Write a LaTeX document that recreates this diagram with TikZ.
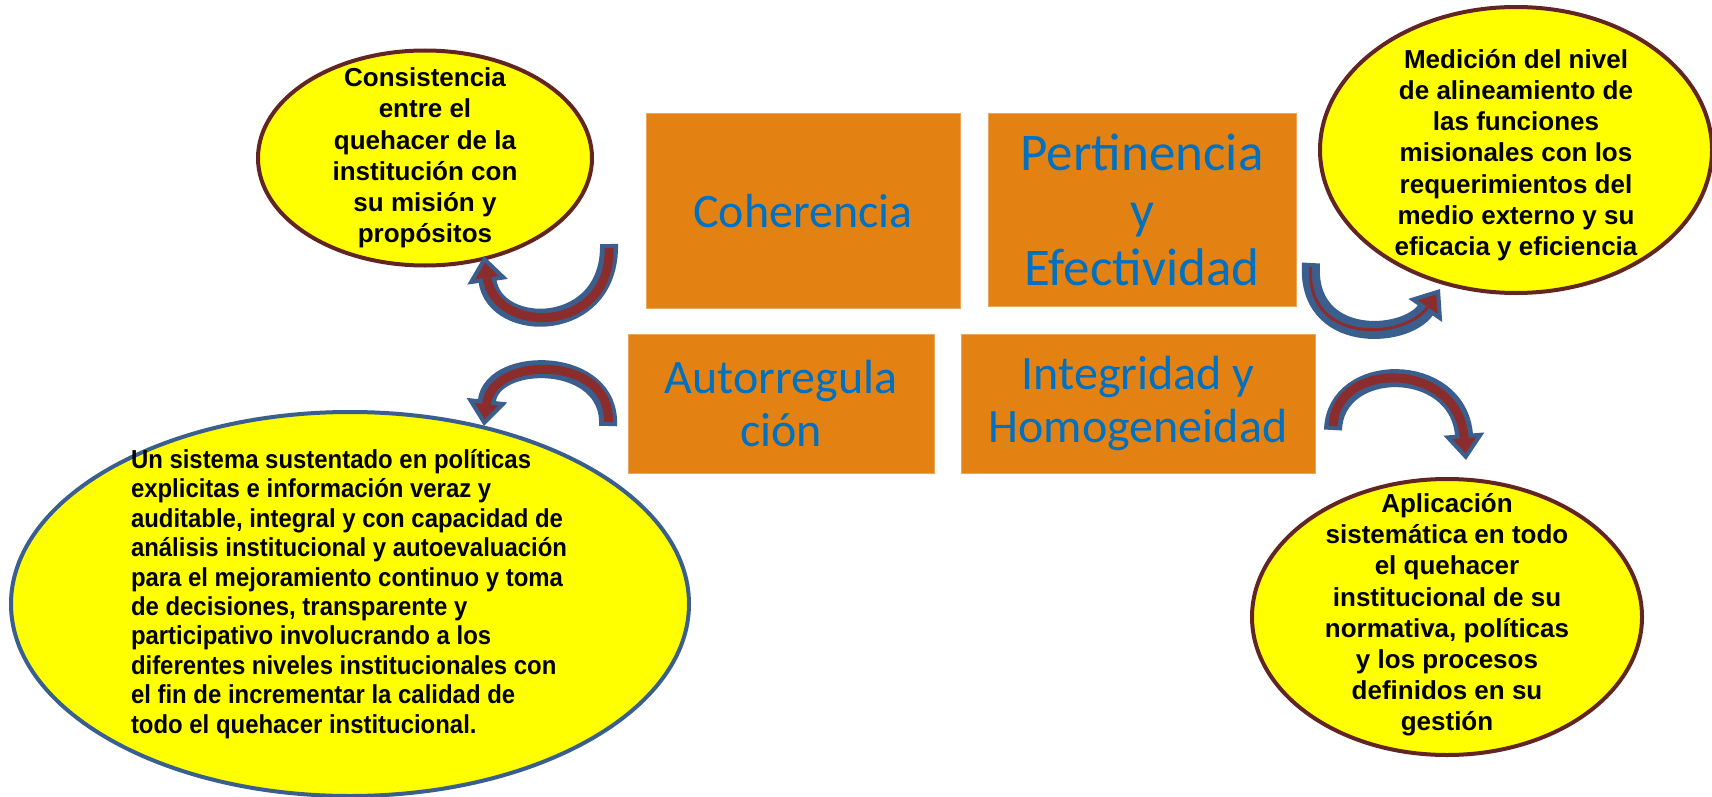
\documentclass[tikz,border=0pt]{standalone}
\usepackage{fontspec}
\usepackage{xcolor}
\usetikzlibrary{
  shapes.geometric,
  arrows.meta
}
\newfontfamily\boxfont{Carlito}
\newfontfamily\ovalfont{Liberation Sans}
\newfontfamily\narrowfont[FakeStretch=0.92]{Liberation Sans}
\definecolor{boxorange}{RGB}{227,130,18}
\definecolor{boxblue}{RGB}{0,112,192}
\definecolor{ovalyellow}{RGB}{255,255,0}
\definecolor{ovalrim}{RGB}{99,37,35}
\definecolor{arrowblue}{RGB}{58,95,143}
\definecolor{arrowred}{RGB}{140,45,45}
\newcommand{\ovaltext}[3]{\smash{\makebox[0pt]{\raisebox{#2}{\parbox{#1}{#3}}}}}

\begin{document}
\begin{tikzpicture}[x=0.5pt, y=-0.5pt,
    every node/.style = {inner sep=0pt},
    cajon/.style = {rectangle, fill=boxorange, draw=boxorange!70!white,
      line width=0.5pt, text=boxblue, align=center,
      font=\boxfont\fontsize{24pt}{26.2pt}\selectfont},
    globo/.style = {ellipse, fill=ovalyellow, draw=ovalrim, line width=2pt,
      font=\ovalfont\bfseries\fontsize{13pt}{15.6pt}\selectfont},
    flechafondo/.style = {draw=arrowblue, line width=9pt,
      -{Triangle[length=13pt, width=20pt, fill=arrowred, line width=2pt]}},
    flechanucleo/.style = {draw=arrowred, line width=4.5pt,
      shorten <=2pt, shorten >=11pt}]
    \useasboundingbox (0,0) rectangle (1712,797);
    \fill[white] (0,0) rectangle (1712,797);

    % ovalos
    \node[globo, minimum width=167pt, minimum height=107.5pt] (consist) at (425,158)
      {\ovaltext{150pt}{-3pt}{\centering Consistencia\\ entre el\\ quehacer de la\\
        institución con\\ su misión y\\ propósitos}};
    \node[globo, minimum width=196pt, minimum height=143pt] (medic) at (1516,150)
      {\ovaltext{180pt}{-5.5pt}{\centering Medición del nivel\\ de alineamiento de\\
        las funciones\\ misionales con los\\ requerimientos del\\
        medio externo y su\\ eficacia y eficiencia}};
    \node[globo, draw=arrowblue, minimum width=339pt, minimum height=192pt,
      font=\narrowfont\bfseries\fontsize{13pt}{14.7pt}\selectfont] (sistema) at (350,604)
      {\ovaltext{219pt}{2pt}{\raggedright Un sistema sustentado en políticas\\
        explicitas e información veraz y\\ auditable, integral y con capacidad de\\
        análisis institucional y autoevaluación\\ para el mejoramiento continuo y toma\\
        de decisiones, transparente y\\ participativo involucrando a los\\
        diferentes niveles institucionales con\\ el fin de incrementar la calidad de\\
        todo el quehacer institucional.}};
    \node[globo, minimum width=195pt, minimum height=138pt] (aplic) at (1447,617)
      {\ovaltext{180pt}{-2pt}{\centering Aplicación\\ sistemática en todo\\
        el quehacer\\ institucional de su\\ normativa, políticas\\
        y los procesos\\ definidos en su\\ gestión}};

    % cajas
    \node[cajon, minimum width=157pt, minimum height=97pt] (coh) at (803,211) {Coherencia};
    \node[cajon, minimum width=154pt, minimum height=96pt,
      font=\boxfont\fontsize{26.5pt}{28.7pt}\selectfont] (pert) at (1142,210)
      {Pertinencia\\ y\\ Efectividad};
    \node[cajon, minimum width=153pt, minimum height=69.5pt] (autor) at (781,403.5)
      {Autorregula\\ ción};
    \node[cajon, minimum width=177pt, minimum height=69.5pt] (integ) at (1138,403.5)
      {Integridad y\\ Homogeneidad};

    % flechas curvas
    \coordinate (cohcola) at (609,244);
    \coordinate (cohpunta) at (484,256);
    \coordinate (pertcola) at (1311,263);
    \coordinate (pertpunta) at (1440,289);
    \coordinate (autorcola) at (608,426);
    \coordinate (autorpunta) at (484,426);
    \coordinate (integcola) at (1333,430);
    \coordinate (integpunta) at (1466,460);

    \draw[flechafondo] (cohcola) .. controls (611,335) and (495,335) .. (cohpunta);
    \draw[flechanucleo] (cohcola) .. controls (611,335) and (495,335) .. (cohpunta);
    \draw[flechafondo] (pertcola) .. controls (1305,345) and (1405,340) .. (pertpunta);
    \draw[flechanucleo, line width=1.5pt] (pertcola) .. controls (1305,345) and (1405,340) .. (pertpunta);
    \draw[flechafondo] (autorcola) .. controls (612,355) and (492,355) .. (autorpunta);
    \draw[flechanucleo] (autorcola) .. controls (612,355) and (492,355) .. (autorpunta);
    \draw[flechafondo] (integcola) .. controls (1335,360) and (1458,360) .. (integpunta);
    \draw[flechanucleo] (integcola) .. controls (1335,360) and (1458,360) .. (integpunta);
\end{tikzpicture}
\end{document}
